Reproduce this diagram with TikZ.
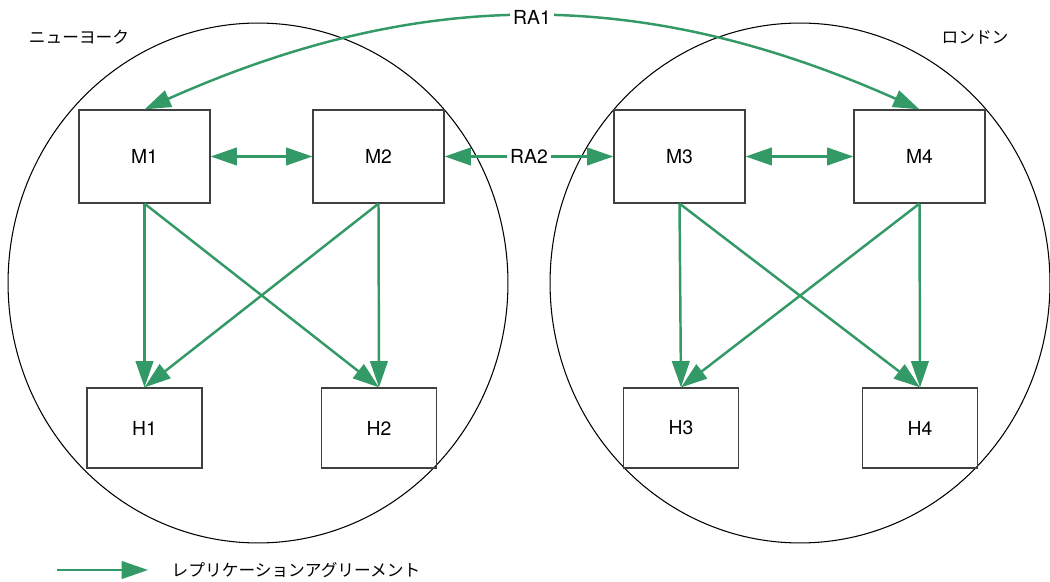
\documentclass[tikz,border=0pt]{standalone}
\usepackage{fontspec}
\setmainfont{TeX Gyre Heros}
\newfontfamily\jpfont{Noto Sans CJK JP}
\usetikzlibrary{positioning, arrows.meta}
\definecolor{ragreen}{RGB}{51,153,102}

\begin{document}
\begin{tikzpicture}[
    x=0.02cm,
    y=0.02cm,
    >={Triangle[length=15pt,width=10pt]},
    mbox/.style={
        rectangle,
        draw=black!75,
        line width=0.7pt,
        minimum width=2.62cm,
        minimum height=1.86cm,
        font=\fontsize{11}{13}\selectfont
    },
    hbox/.style={
        mbox,
        minimum width=2.3cm,
        minimum height=1.6cm
    },
    site/.style={
        draw,
        line width=0.6pt
    },
    ra/.style={
        ->,
        draw=ragreen,
        line width=1.4pt
    },
    ralabel/.style={
        fill=white,
        inner sep=2pt,
        font=\fontsize{11}{13}\selectfont
    },
    jplabel/.style={
        font=\jpfont\fontsize{9.5}{11}\selectfont
    }
]
\useasboundingbox (0,0) rectangle (1050,581);

\draw[site] (258,298) ellipse [x radius=5cm, y radius=5.2cm];
\draw[site] (800,298) ellipse [x radius=5cm, y radius=5.2cm];

\node[jplabel] (newyork) at (79,544) {ニューヨーク};
\node[jplabel] (london) at (975,544) {ロンドン};

\node[mbox] (m1) at (144.5,424.5) {M1};
\node[mbox] (m2) at (378.5,424.5) {M2};
\node[mbox] (m3) at (679.5,424.5) {M3};
\node[mbox] (m4) at (919.5,424.5) {M4};

\node[hbox] (h1) at (144.5,153) {H1};
\node[hbox] (h2) at (379,153) {H2};
\node[hbox] (h3) at (681,153) {H3};
\node[hbox] (h4) at (920,153) {H4};

\draw[ra, <->] (m1) -- (m2);
\draw[ra, <->] (m3) -- (m4);
\draw[ra, <->] (m2) -- node[ralabel] (ra2) {RA2} (m3);
\draw[ra, <->] (m4.north) to[bend right=24] node[ralabel] (ra1) {RA1} (m1.north);

\draw[ra] (m1.south) -- (h1.north);
\draw[ra] (m1.south) -- (h2.north);
\draw[ra] (m2.south) -- (h1.north);
\draw[ra] (m2.south) -- (h2.north);
\draw[ra] (m3.south) -- (h3.north);
\draw[ra] (m3.south) -- (h4.north);
\draw[ra] (m4.south) -- (h3.north);
\draw[ra] (m4.south) -- (h4.north);

\coordinate (legstart) at (57,11);
\coordinate (legend) at (148,11);
\draw[ra] (legstart) -- (legend);
\node[jplabel] (legtext) at (296,11) {レプリケーションアグリーメント};
\end{tikzpicture}
\end{document}
